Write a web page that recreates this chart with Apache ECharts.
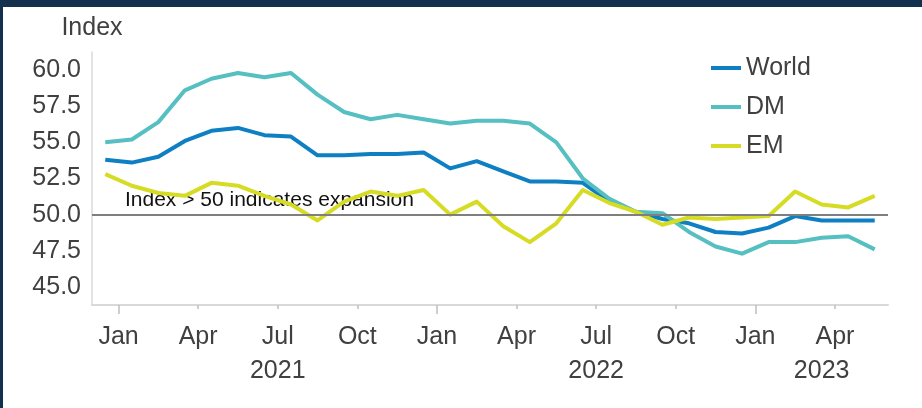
<!DOCTYPE html>
<html>
<head>
<meta charset="utf-8">
<script src="https://cdn.jsdelivr.net/npm/echarts@6/dist/echarts.min.js"></script>
<style>
html,body{margin:0;padding:0;background:#fff;}
#chart{width:922px;height:408px;}
</style>
</head>
<body>
<div id="chart"></div>
<script>
// Months from Dec 2020 to May 2023
const categories = ['Dec 2020','Jan 2021','Feb 2021','Mar 2021','Apr 2021','May 2021','Jun 2021','Jul 2021','Aug 2021','Sep 2021','Oct 2021','Nov 2021','Dec 2021',
  'Jan 2022','Feb 2022','Mar 2022','Apr 2022','May 2022','Jun 2022','Jul 2022','Aug 2022','Sep 2022','Oct 2022','Nov 2022','Dec 2022',
  'Jan 2023','Feb 2023','Mar 2023','Apr 2023','May 2023'];
const world = [53.8,53.6,54.0,55.1,55.8,56.0,55.5,55.4,54.1,54.1,54.2,54.2,54.3,53.2,53.7,53.0,52.3,52.3,52.2,50.9,50.2,49.7,49.4,48.8,48.7,49.1,49.9,49.6,49.6,49.6];
const dm    = [55.0,55.2,56.4,58.6,59.4,59.8,59.5,59.8,58.3,57.1,56.6,56.9,56.6,56.3,56.5,56.5,56.3,55.0,52.5,51.1,50.2,50.1,48.8,47.8,47.3,48.1,48.1,48.4,48.5,47.6];
const em    = [52.8,52.0,51.5,51.3,52.2,52.0,51.3,50.7,49.6,50.9,51.6,51.3,51.7,50.0,50.9,49.2,48.1,49.4,51.7,50.8,50.2,49.3,49.8,49.7,49.8,49.9,51.6,50.7,50.5,51.3];
const seriesNames = ['World','DM','EM'];
const yTickLabels = [45.0,47.5,50.0,52.5,55.0,57.5,60.0];
const quarterMonths = ['Jan','Apr','Jul','Oct'];
const threshold = 50;
const thresholdText = 'Index > 50 indicates expansion';
const yAxisName = 'Index';

const colors = ['#0f7fc3','#56bfc1','#d6dc24'];
const FONT = "'Liberation Sans', Arial, sans-serif";

// tick positions: boundaries before each quarter month
const quarterTicks = [];
const yearTicks = [];
const yearSpans = {};
categories.forEach((c, i) => {
  const [m, y] = c.split(' ');
  if (quarterMonths.includes(m)) quarterTicks.push(i - 0.5);
  if (m === 'Jan') yearTicks.push(i - 0.5);
  if (!yearSpans[y]) yearSpans[y] = [i, i];
  yearSpans[y][1] = i;
});
const yearCenters = Object.keys(yearSpans)
  .filter(y => yearSpans[y][1] - yearSpans[y][0] > 0)
  .map(y => (yearSpans[y][0] + yearSpans[y][1]) / 2);

const toPairs = arr => arr.map((v, i) => [i, v]);

const chart = echarts.init(document.getElementById('chart'), null, {renderer: 'canvas'});
chart.setOption({
  backgroundColor: '#ffffff',
  animation: false,
  textStyle: {fontFamily: FONT},
  grid: {left: 92, right: 34, top: 52, bottom: 103, containLabel: false},
  legend: {
    orient: 'vertical',
    left: 711,
    top: 55,
    padding: 0,
    icon: 'rect',
    itemWidth: 30,
    itemHeight: 4,
    itemGap: 13,
    itemTextGap: 7,
    data: seriesNames,
    textStyle: {fontFamily: FONT, fontSize: 25, lineHeight: 26, color: '#404040'}
  },
  xAxis: [{
    type: 'value',
    min: -0.5,
    max: categories.length - 0.5,
    position: 'bottom',
    splitLine: {show: false},
    axisLine: {show: true, onZero: false, lineStyle: {color: '#d9d9d9', width: 2}},
    axisTick: {show: true, customValues: quarterTicks, length: 4, lineStyle: {color: '#bfbfbf', width: 1.5}},
    axisLabel: {
      customValues: quarterTicks,
      formatter: v => categories[Math.round(v + 0.5)].split(' ')[0],
      margin: 20, fontSize: 25, color: '#404040', fontFamily: FONT
    }
  }, {
    type: 'value',
    min: -0.5,
    max: categories.length - 0.5,
    position: 'bottom',
    splitLine: {show: false},
    axisLine: {show: false, onZero: false},
    axisTick: {show: true, customValues: yearTicks, length: 9, lineStyle: {color: '#bfbfbf', width: 1.5}},
    axisLabel: {
      customValues: yearCenters,
      formatter: v => categories[Math.floor(v + 0.5)].split(' ')[1],
      margin: 54, fontSize: 25, color: '#404040', fontFamily: FONT
    }
  }],
  yAxis: {
    type: 'value',
    min: 43.75,
    max: 61.25,
    name: yAxisName,
    nameLocation: 'end',
    nameGap: 11,
    nameTextStyle: {fontSize: 25, color: '#404040', fontFamily: FONT, align: 'center'},
    splitLine: {show: false},
    axisLine: {show: true, onZero: false, lineStyle: {color: '#d9d9d9', width: 1.5}},
    axisTick: {show: false},
    axisLabel: {
      customValues: yTickLabels,
      formatter: v => v.toFixed(1),
      margin: 11, fontSize: 25, color: '#404040', fontFamily: FONT
    }
  },
  series: [{
    name: '_threshold',
    type: 'line',
    data: [],
    z: 1,
    silent: true,
    markLine: {
      silent: true,
      symbol: 'none',
      label: {show: false},
      lineStyle: {color: '#7f7f7f', width: 2, type: 'solid'},
      data: [{yAxis: threshold}]
    }
  }].concat([world, dm, em].map((arr, k) => ({
    name: seriesNames[k],
    type: 'line',
    data: toPairs(arr),
    z: 3,
    showSymbol: false,
    symbol: 'none',
    color: colors[k],
    itemStyle: {color: colors[k]},
    lineStyle: {color: colors[k], width: 4, join: 'round'}
  }))),
  graphic: [
    {type: 'rect', left: 0, top: 0, shape: {width: 922, height: 7}, style: {fill: '#13304f'}},
    {type: 'rect', left: 0, top: 0, shape: {width: 3, height: 408}, style: {fill: '#13304f'}},
    {type: 'text', left: 125, top: 190, style: {text: thresholdText, font: '21px ' + FONT, fill: '#111111'}}
  ]
});
</script>
</body>
</html>
